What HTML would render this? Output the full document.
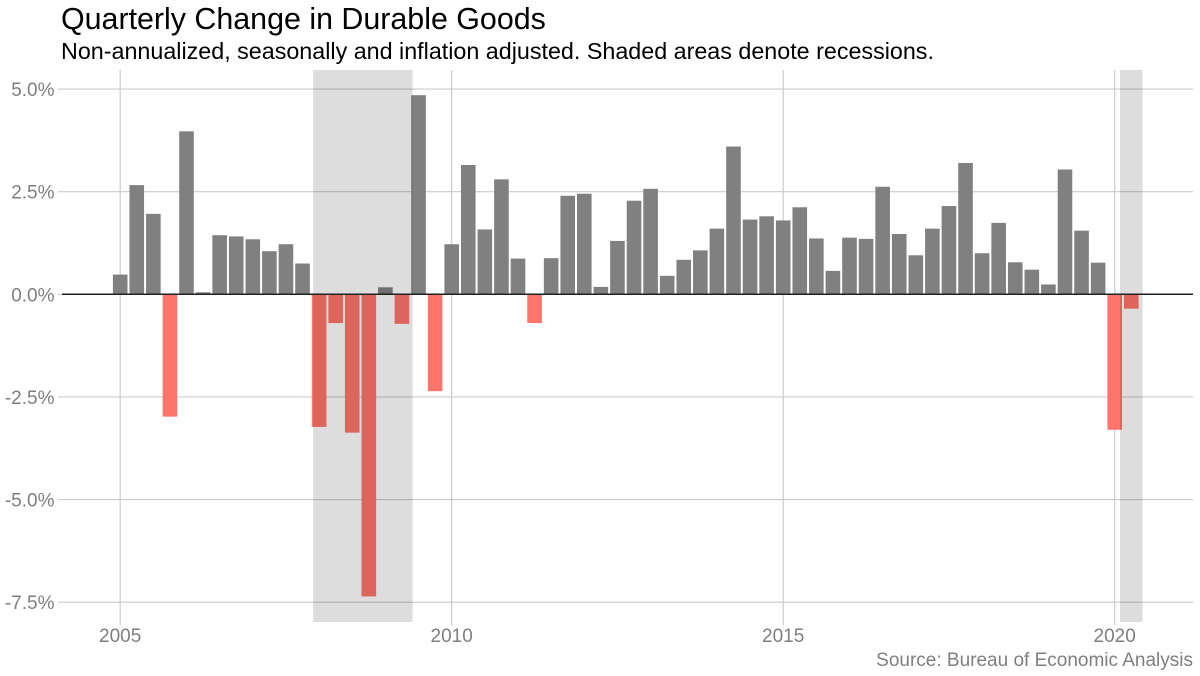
<!DOCTYPE html>
<html lang="en">
<head>
<meta charset="utf-8">
<title>Quarterly Change in Durable Goods</title>
<style>
  html, body { margin: 0; padding: 0; background: #fff; }
  svg { display: block; font-family: "Liberation Sans", Arial, sans-serif; }
</style>
</head>
<body>
<svg id="chart" width="1200" height="676" viewBox="0 0 1200 676" xmlns="http://www.w3.org/2000/svg">
  <rect x="0" y="0" width="1200" height="676" fill="#ffffff"></rect>
  <text x="61" y="29" font-size="30.4" fill="#000">Quarterly Change in Durable Goods</text>
  <text x="61" y="59" font-size="23.3" fill="#000">Non-annualized, seasonally and inflation adjusted. Shaded areas denote recessions.</text>
  <g id="grid"></g>
  <g id="bars"></g>
  <g id="bands"></g>
  <line id="zero" stroke="#222222" stroke-width="1.5"></line>
  <g id="yticks"></g>
  <g id="xticks"></g>
  <text x="1193" y="666" font-size="19" fill="#7f7f7f" text-anchor="end">Source: Bureau of Economic Analysis</text>
</svg>
<script>
const startYear = 2005;
const values = [
  0.48, 2.66, 1.96, -2.98,
  3.97, 0.05, 1.44, 1.41,
  1.34, 1.05, 1.22, 0.75,
  -3.23, -0.70, -3.37, -7.36,
  0.17, -0.72, 4.85, -2.36,
  1.22, 3.15, 1.58, 2.80,
  0.87, -0.70, 0.88, 2.40,
  2.45, 0.18, 1.30, 2.28,
  2.57, 0.45, 0.84, 1.07,
  1.60, 3.60, 1.82, 1.90,
  1.80, 2.12, 1.36, 0.57,
  1.38, 1.35, 2.62, 1.47,
  0.95, 1.60, 2.15, 3.20,
  1.00, 1.74, 0.78, 0.60,
  0.24, 3.04, 1.55, 0.77,
  -3.30, -0.35
];
const yTicks = [5, 2.5, 0, -2.5, -5, -7.5];
const yTickLabels = ["5.0%", "2.5%", "0.0%", "-2.5%", "-5.0%", "-7.5%"];
const xTicks = [2005, 2010, 2015, 2020];
const recessionStarts = [2007.91, 2020.08];
const recessionEnds = [2009.41, 2020.42];

const NS = "http://www.w3.org/2000/svg";
function xScale(year) { return 120.2 + (year - 2005) * 66.3; }
function yScale(v) { return 294.3 - v * 41.05; }
function make(tag, attrs, parent) {
  const el = document.createElementNS(NS, tag);
  for (const k in attrs) el.setAttribute(k, attrs[k]);
  parent.appendChild(el);
  return el;
}
const panelLeft = 58, panelRight = 1193, panelTop = 70, bandBottom = 622, gridBottom = 625;

const grid = document.getElementById("grid");
yTicks.forEach(function (t) {
  const l = make("line", { x1: panelLeft, x2: panelRight, y1: yScale(t), y2: yScale(t), stroke: "#cccccc", "stroke-width": 1.2 }, grid);
  
  
});
xTicks.forEach(function (t) {
  const l = make("line", { x1: xScale(t), x2: xScale(t), y1: panelTop, y2: gridBottom, stroke: "#cccccc", "stroke-width": 1.2 }, grid);
  
  
});

const bars = document.getElementById("bars");
const barWidth = 14.6;
values.forEach(function (v, i) {
  const cx = xScale(startYear + i / 4);
  const y0 = yScale(0), y1 = yScale(v);
  const r = make("rect", {
    x: cx - barWidth / 2, width: barWidth,
    y: Math.min(y0, y1), height: Math.abs(y1 - y0),
    fill: v < 0 ? "#ff756b" : "#808080"
  }, bars);
  
  
});

const bands = document.getElementById("bands");
recessionStarts.forEach(function (s, i) {
  const r = make("rect", {
    x: xScale(s), width: xScale(recessionEnds[i]) - xScale(s),
    y: panelTop, height: bandBottom - panelTop,
    fill: "#000000", "fill-opacity": 0.133
  }, bands);
  
  
});

const zero = document.getElementById("zero");
zero.setAttribute("x1", 62);
zero.setAttribute("x2", panelRight);
zero.setAttribute("y1", yScale(0));
zero.setAttribute("y2", yScale(0));

const yGroup = document.getElementById("yticks");
yTicks.forEach(function (t, i) {
  const el = make("text", { x: 54.5, y: yScale(t) + 7, "font-size": 19, fill: "#7f7f7f", "text-anchor": "end" }, yGroup);
  el.textContent = yTickLabels[i];
  
  
});
const xGroup = document.getElementById("xticks");
xTicks.forEach(function (t) {
  const el = make("text", { x: xScale(t), y: 642, "font-size": 19, fill: "#7f7f7f", "text-anchor": "middle" }, xGroup);
  el.textContent = String(t);
  
  
});
</script>
</body>
</html>
